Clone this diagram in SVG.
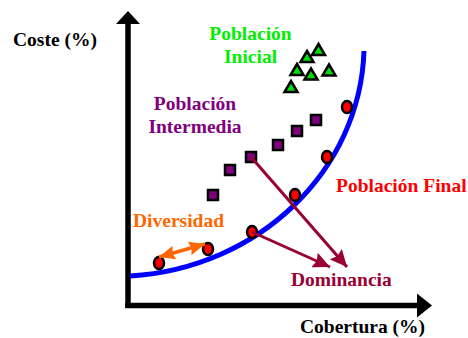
<svg xmlns="http://www.w3.org/2000/svg" width="468" height="338" viewBox="0 0 468 338">
<style>
  .t{font-family:"Liberation Serif","Times New Roman",serif;font-weight:bold;font-size:19.5px}
  .tri{fill:#00e000;stroke:#000;stroke-width:2.5}
  .sq{fill:#800080;stroke:#000;stroke-width:2.5}
  .dot{fill:#ff0000;stroke:#000;stroke-width:2.5}
  .dom{stroke:#990033;stroke-width:3;fill:none}
  .div{stroke:#ff6600;stroke-width:3.5;fill:none}
</style>
<defs>
  <path id="tr" d="M0,3 L6.5,14 L-6.5,14 Z"/>
  <marker id="ahDom" markerUnits="userSpaceOnUse" viewBox="0 0 17 16" refX="17" refY="8" markerWidth="17" markerHeight="16" orient="auto">
    <path d="M0,0 L17,8 L0,16 L2.5,8 Z" fill="#990033"/>
  </marker>
  <marker id="ahDivE" markerUnits="userSpaceOnUse" viewBox="0 0 16 14" refX="16" refY="7" markerWidth="16" markerHeight="14" orient="auto">
    <path d="M0,0 L16,7 L0,14 L2,7 Z" fill="#ff6600"/>
  </marker>
  <marker id="ahDivS" markerUnits="userSpaceOnUse" viewBox="0 0 16 14" refX="0" refY="7" markerWidth="16" markerHeight="14" orient="auto">
    <path d="M16,0 L0,7 L16,14 L14,7 Z" fill="#ff6600"/>
  </marker>
</defs>
<rect width="468" height="338" fill="#fff"/>

<g id="axes">
  <line x1="128" y1="22" x2="128" y2="308" stroke="#000" stroke-width="5.5"/>
  <polygon points="128,11 140,24 116,24" fill="#000"/>
  <line x1="125.25" y1="305.5" x2="420" y2="305.5" stroke="#000" stroke-width="5.5"/>
  <polygon points="432,305.5 417,293.5 417,317.5" fill="#000"/>
  <text class="t" x="13" y="46" fill="#000">Coste (%)</text>
  <text class="t" x="300" y="333" fill="#000">Cobertura (%)</text>
</g>

<g id="frente">
  <path d="M130,276 C260,268 360,170 364,51" fill="none" stroke="#0000ff" stroke-width="5"/>
</g>

<g id="poblacion-inicial">
  <text class="t" x="250.5" y="40" fill="#00ee00" text-anchor="middle">Población</text>
  <text class="t" x="250.5" y="63" fill="#00ee00" text-anchor="middle">Inicial</text>
  <use href="#tr" class="tri" x="318.5" y="41"/>
  <use href="#tr" class="tri" x="307" y="48"/>
  <use href="#tr" class="tri" x="297" y="61"/>
  <use href="#tr" class="tri" x="311" y="65.5"/>
  <use href="#tr" class="tri" x="329" y="61.5"/>
  <use href="#tr" class="tri" x="291" y="78"/>
</g>

<g id="poblacion-intermedia">
  <text class="t" x="195" y="110" fill="#800080" text-anchor="middle">Población</text>
  <text class="t" x="195" y="133" fill="#800080" text-anchor="middle">Intermedia</text>
  <rect class="sq" x="311" y="115" width="10" height="10"/>
  <rect class="sq" x="292" y="126" width="10" height="10"/>
  <rect class="sq" x="273" y="140" width="10" height="10"/>
  <rect class="sq" x="246" y="152" width="10" height="10"/>
  <rect class="sq" x="225" y="165" width="10" height="10"/>
  <rect class="sq" x="208" y="190" width="10" height="10"/>
</g>

<g id="poblacion-final">
  <text class="t" x="336" y="192" fill="#ff0000">Población Final</text>
  <ellipse class="dot" cx="347" cy="107" rx="5" ry="6"/>
  <ellipse class="dot" cx="327" cy="157" rx="5" ry="6"/>
  <ellipse class="dot" cx="295" cy="195" rx="5" ry="6"/>
  <ellipse class="dot" cx="252" cy="232" rx="5" ry="6"/>
  <ellipse class="dot" cx="208" cy="249" rx="5" ry="6"/>
  <ellipse class="dot" cx="159" cy="263" rx="5" ry="6"/>
</g>

<g id="diversidad">
  <text class="t" x="133" y="227" fill="#ff6600">Diversidad</text>
</g>

<g id="dominancia">
  <text class="t" x="291" y="286" fill="#990033">Dominancia</text>
</g>

<g id="connectors">
  <line class="dom" x1="251" y1="157" x2="347" y2="267" marker-end="url(#ahDom)"/>
  <line class="dom" x1="252" y1="232" x2="330" y2="267" marker-end="url(#ahDom)"/>
  <line class="div" x1="159" y1="257" x2="205" y2="244" marker-start="url(#ahDivS)" marker-end="url(#ahDivE)"/>
</g>
</svg>
